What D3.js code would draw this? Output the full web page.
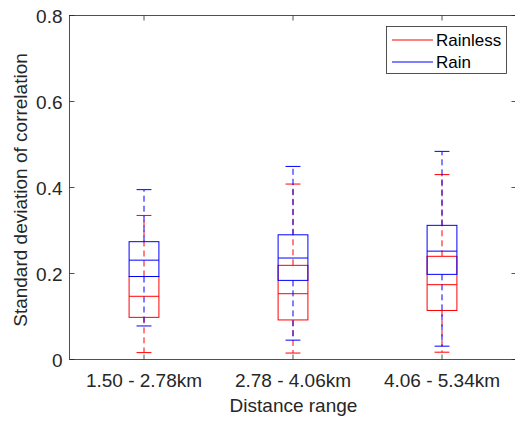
<!DOCTYPE html>
<html>
<head>
<meta charset="utf-8">
<script src="https://cdn.jsdelivr.net/npm/d3@7"></script>
<style>
  body { margin: 0; background: #fff; }
  svg { display: block; font-family: "Liberation Sans", Arial, sans-serif; }
</style>
</head>
<body>
<svg id="canvas" width="515" height="423"></svg>
<script>
// Chart data
const categories = ['1.50 - 2.78km', '2.78 - 4.06km', '4.06 - 5.34km'];
const yTicks = [0, 0.2, 0.4, 0.6, 0.8];

// Rainless box stats (whisker low, q1, median, q3, whisker high)
const rainlessLo = [0.016, 0.015, 0.017];
const rainlessQ1 = [0.098, 0.092, 0.114];
const rainlessMed = [0.147, 0.153, 0.174];
const rainlessQ3 = [0.193, 0.219, 0.240];
const rainlessHi = [0.335, 0.408, 0.430];

// Rain box stats
const rainLo = [0.078, 0.045, 0.031];
const rainQ1 = [0.193, 0.184, 0.198];
const rainMed = [0.231, 0.236, 0.252];
const rainQ3 = [0.274, 0.290, 0.312];
const rainHi = [0.395, 0.449, 0.484];

const axisColor = '#262626';
const fontSize = 19;
const canvas = d3.select('#canvas');

const x = d3.scaleLinear().domain([0.5, 3.5]).range([69.5, 516.5]);
const y = d3.scaleLinear().domain([0, 0.8]).range([359.5, 15.5]);

const boxHalf = 0.1;
const capHalf = 0.05;

const makeSeries = (lo, q1, med, q3, hi) =>
  categories.map((c, i) => ({ i: i + 1, lo: lo[i], q1: q1[i], med: med[i], q3: q3[i], hi: hi[i] }));

const series = [
  { name: 'Rainless', color: '#ff0000', data: makeSeries(rainlessLo, rainlessQ1, rainlessMed, rainlessQ3, rainlessHi) },
  { name: 'Rain', color: '#0000ff', data: makeSeries(rainLo, rainQ1, rainMed, rainQ3, rainHi) }
];

// Axes box
const [x0, x1] = x.range();
const [yb, yt] = y.range();
canvas.append('rect')
  .attr('x', x0).attr('y', yt)
  .attr('width', x1 - x0).attr('height', yb - yt)
  .attr('fill', 'none').attr('stroke', axisColor).attr('stroke-width', 0.8);

// Y ticks (inward) and labels
const yAxis = canvas.append('g');
yTicks.forEach((t) => {
  yAxis.append('line')
    .attr('x1', x0).attr('x2', x0 + 5)
    .attr('y1', y(t)).attr('y2', y(t))
    .attr('stroke', axisColor).attr('stroke-width', 0.8);
  yAxis.append('line')
    .attr('x1', x1).attr('x2', x1 - 5)
    .attr('y1', y(t)).attr('y2', y(t))
    .attr('stroke', axisColor).attr('stroke-width', 0.8);
  yAxis.append('text')
    .attr('x', x0 - 7).attr('y', y(t) + 7)
    .attr('text-anchor', 'end')
    .attr('font-size', fontSize)
    .attr('fill', axisColor)
    .text(t === 0 ? '0' : t.toFixed(1));
});

// X ticks and labels
const xAxis = canvas.append('g');
categories.forEach((c, i) => {
  const px = x(i + 1);
  xAxis.append('line')
    .attr('x1', px).attr('x2', px)
    .attr('y1', yb).attr('y2', yb - 5)
    .attr('stroke', axisColor).attr('stroke-width', 0.8);
  xAxis.append('line')
    .attr('x1', px).attr('x2', px)
    .attr('y1', yt).attr('y2', yt + 5)
    .attr('stroke', axisColor).attr('stroke-width', 0.8);
  xAxis.append('text')
    .attr('x', px).attr('y', 387)
    .attr('text-anchor', 'middle')
    .attr('font-size', fontSize)
    .attr('fill', axisColor)
    .text(c);
});

// Axis titles
canvas.append('text')
  .attr('x', 293.5).attr('y', 412)
  .attr('text-anchor', 'middle')
  .attr('font-size', fontSize)
  .attr('fill', axisColor)
  .text('Distance range');

canvas.append('text')
  .attr('transform', 'translate(27,190) rotate(-90)')
  .attr('text-anchor', 'middle')
  .attr('font-size', fontSize)
  .attr('fill', axisColor)
  .text('Standard deviation of correlation');

// Boxes
series.forEach((s) => {
  const g = canvas.append('g').attr('stroke', s.color).attr('fill', 'none').attr('stroke-width', 1);
  s.data.forEach((d) => {
    // whiskers
    g.append('line')
      .attr('x1', x(d.i)).attr('x2', x(d.i))
      .attr('y1', y(d.q3)).attr('y2', y(d.hi))
      .attr('stroke-dasharray', '6,4');
    g.append('line')
      .attr('x1', x(d.i)).attr('x2', x(d.i))
      .attr('y1', y(d.q1)).attr('y2', y(d.lo))
      .attr('stroke-dasharray', '6,4');
    // caps
    [d.lo, d.hi].forEach((v) => {
      g.append('line')
        .attr('x1', x(d.i - capHalf)).attr('x2', x(d.i + capHalf))
        .attr('y1', y(v)).attr('y2', y(v));
    });
    // box
    g.append('rect')
      .attr('x', x(d.i - boxHalf)).attr('y', y(d.q3))
      .attr('width', x(d.i + boxHalf) - x(d.i - boxHalf))
      .attr('height', y(d.q1) - y(d.q3));
    // median
    g.append('line')
      .attr('x1', x(d.i - boxHalf)).attr('x2', x(d.i + boxHalf))
      .attr('y1', y(d.med)).attr('y2', y(d.med));
  });
});

// Legend
const legend = canvas.append('g');
legend.append('rect')
  .attr('x', 386.5).attr('y', 26.5)
  .attr('width', 120).attr('height', 47)
  .attr('fill', '#fff').attr('stroke', axisColor).attr('stroke-width', 0.8);
series.forEach((s, i) => {
  const ly = 40 + i * 22;
  legend.append('line')
    .attr('x1', 392).attr('x2', 433)
    .attr('y1', ly).attr('y2', ly)
    .attr('stroke', s.color).attr('stroke-width', 1);
  legend.append('text')
    .attr('x', 436).attr('y', ly + 6)
    .attr('font-size', 17)
    .attr('fill', '#000')
    .text(s.name);
});
</script>
</body>
</html>
